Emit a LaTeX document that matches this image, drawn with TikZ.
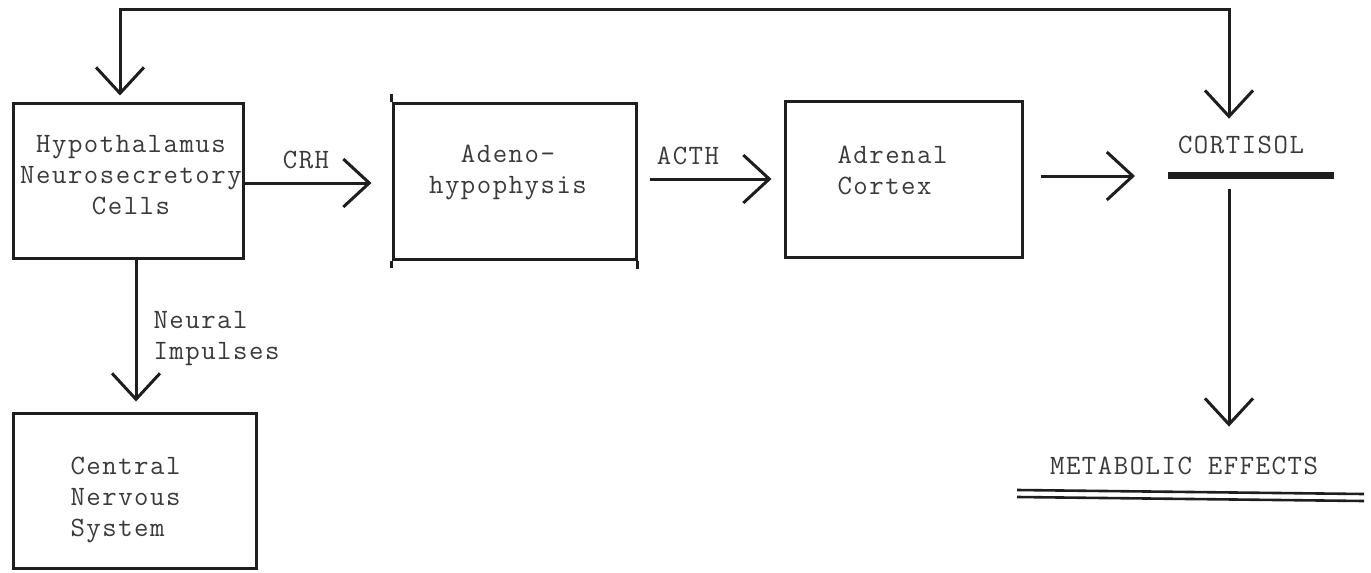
\documentclass[tikz,border=0pt]{standalone}
\usepackage{fontspec}
\newfontfamily\twfont{Latin Modern Mono}[LetterSpace=5.4]
\usetikzlibrary{arrows.meta,calc}
\definecolor{ink}{HTML}{1E1E1E}
\definecolor{txt}{HTML}{3A3A3A}
\begin{document}
\begin{tikzpicture}[x=1pt,y=-1pt,
  line width=3pt, draw=ink,
  box/.style={draw=ink, line width=3pt, rectangle, inner sep=0pt},
  lbl/.style={inner sep=0pt, text=txt, font=\twfont\fontsize{28}{31}\selectfont},
  barb/.tip={Straight Barb[length=26pt,width=48pt,line width=3pt]},
  arr/.style={draw=ink, line width=3pt, -barb},
  dbl/.style={draw=ink, line width=2.6pt}]
\useasboundingbox (0,0) rectangle (1371,573);

% boxes
\node[box, minimum width=230pt, minimum height=155pt] (hyp) at (128,180.5) {};
\node[box, minimum width=243pt, minimum height=156pt] (adeno) at (514.5,181) {};
\node[box, minimum width=237pt, minimum height=156pt] (adr) at (903.5,179) {};
\node[box, minimum width=243pt, minimum height=155pt] (cns) at (134.5,490.5) {};

% hand-drawn overhangs of the adenohypophysis box
\draw[ink] (adeno.north west) -- +(0,-8);
\draw[ink] (adeno.south west) -- +(0,7);
\draw[ink] (adeno.south east) -- +(0,8);

% box texts
\node[lbl, align=center] (hypT) at (131,175) {Hypothalamus\\Neurosecretory\\Cells};
\node[lbl, align=center] (adenoT) at (508,172) {Adeno-\\hypophysis};
\node[lbl, align=left, anchor=west] (adrT) at (836,170) {Adrenal\\Cortex};
\node[lbl, align=left, anchor=west] (cnsT) at (69,500) {Central\\Nervous\\System};

% connector labels
\node[lbl] (crh) at (306,160) {CRH};
\node[lbl] (acth) at (688,156) {ACTH};
\node[lbl, align=left, anchor=west] (neur) at (152,339) {Neural\\Impulses};

% cortisol and metabolic effects
\node[lbl] (cort) at (1241,145) {CORTISOL};
\node[lbl] (met) at (1184,466) {METABOLIC EFFECTS};
\coordinate (cortBarL) at (1168,176);
\coordinate (cortBar) at (1229,176);
\draw[draw=ink, line width=7pt] (1168,175.5) -- (1334,175.5);
\draw[dbl] (1017,490) -- (1364,494);
\draw[dbl] (1017,497) -- (1364,501);

% feedback loop
\coordinate (fbL) at (120,9);
\coordinate (fbR) at (1229,9);
\draw[draw=ink, line width=3pt, barb-barb, shorten <=6pt, shorten >=16pt]
  (hyp.north -| fbL) -- (fbL) -- (fbR) -- (cort.north -| fbR);

% main chain
\draw[arr, shorten >=20pt] ($(hyp.east)+(0,2.5)$) -- ($(adeno.west)+(0,2)$);
\draw[arr, shorten <=12pt, shorten >=12pt] ($(adeno.east)+(0,-2)$) -- ($(adr.west)+(0,0)$);
\draw[arr, shorten <=17pt, shorten >=33pt] (adr.east |- cortBarL) -- (cortBarL);
\draw[arr, shorten <=13pt, shorten >=29pt] (cortBar) -- (met.north -| cortBar);
\draw[arr] ($(hyp.south)+(8,0)$) -- ($(cns.north)+(1.5,-10)$);
\end{tikzpicture}
\end{document}
